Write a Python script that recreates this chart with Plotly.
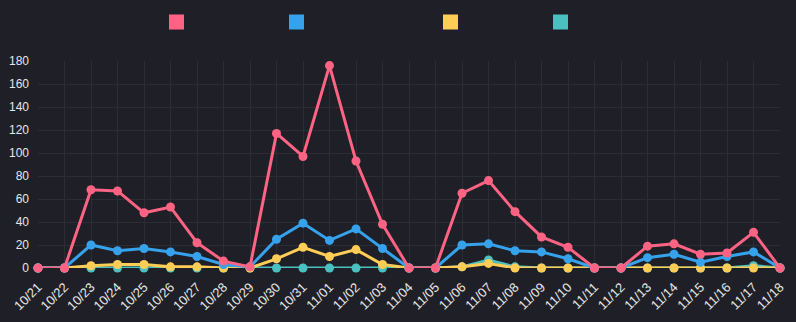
import plotly.graph_objects as go

dates = ["10/21","10/22","10/23","10/24","10/25","10/26","10/27","10/28","10/29","10/30",
         "10/31","11/01","11/02","11/03","11/04","11/05","11/06","11/07","11/08","11/09",
         "11/10","11/11","11/12","11/13","11/14","11/15","11/16","11/17","11/18"]
red = [0,0,68,67,48,53,22,6,1,117,97,176,93,38,0,0,65,76,49,27,18,0,0,19,21,12,13,31,0]
blue = [0,0,20,15,17,14,10,3,1,25,39,24,34,17,0,0,20,21,15,14,8,0,0,9,12,5,10,14,0]
yellow = [0,0,2,3,3,1,1,0,0,8,18,10,16,3,0,0,1,4,0,0,0,0,0,0,0,0,0,0,0]
teal = [0,0,0,0,0,0,0,0,0,0,0,0,0,0,0,0,1,7,1,0,0,0,0,0,0,0,0,2,0]

series = [("", red, "#ff6384"), ("", blue, "#36a2eb"), ("", yellow, "#ffcd56"), ("", teal, "#4bc0c0")]
legend_centers = [177.5, 297.5, 451.5, 561.5]
BG = "#1f2027"

fig = go.Figure()
idx = list(range(len(dates)))
# draw teal first so red is on top
for name, vals, col in reversed(series):
    fig.add_trace(go.Scatter(x=idx, y=vals, mode="lines+markers",
                             line=dict(color=col, width=3),
                             marker=dict(color=col, size=9),
                             cliponaxis=False, showlegend=False, hoverinfo="skip"))

legend_keys = ["legend", "legend2", "legend3", "legend4"]
for (name, vals, col), key in zip(series, legend_keys):
    fig.add_trace(go.Scatter(x=[None], y=[None], mode="markers", name=name,
                             marker=dict(color=col, size=15, symbol="square"),
                             legend=key, showlegend=True))

layout_legends = {}
for key, cx in zip(legend_keys, legend_centers):
    layout_legends[key] = dict(x=(cx - 21) / 796, xref="container", xanchor="left",
                               y=1 - (21.5 - 14) / 322, yref="container", yanchor="top",
                               bgcolor="rgba(0,0,0,0)", font=dict(color=BG, size=12),
                               borderwidth=0, itemwidth=30)

fig.update_layout(
    width=796, height=322,
    paper_bgcolor=BG, plot_bgcolor=BG,
    margin=dict(l=38, r=16, t=61, b=54, autoexpand=False),
    font=dict(family="Liberation Sans, Arial, sans-serif", color="#dcdcdc", size=12),
    xaxis=dict(range=[0, 28], tickmode="array", tickvals=idx, ticktext=dates,
               tickangle=-45, showgrid=True, gridcolor="#2b2c34", gridwidth=1,
               zeroline=False, showline=False, ticks="", ticklabelstandoff=8,
               tickfont=dict(size=13, color="#e6e6e6")),
    yaxis=dict(range=[0, 180], tickvals=list(range(0, 181, 20)),
               showgrid=True, gridcolor="#2b2c34", gridwidth=1, zeroline=False,
               showline=False, ticks="", ticklabelstandoff=8,
               tickfont=dict(size=12, color="#e6e6e6")),
    **layout_legends,
)

fig.write_html("out.html")
